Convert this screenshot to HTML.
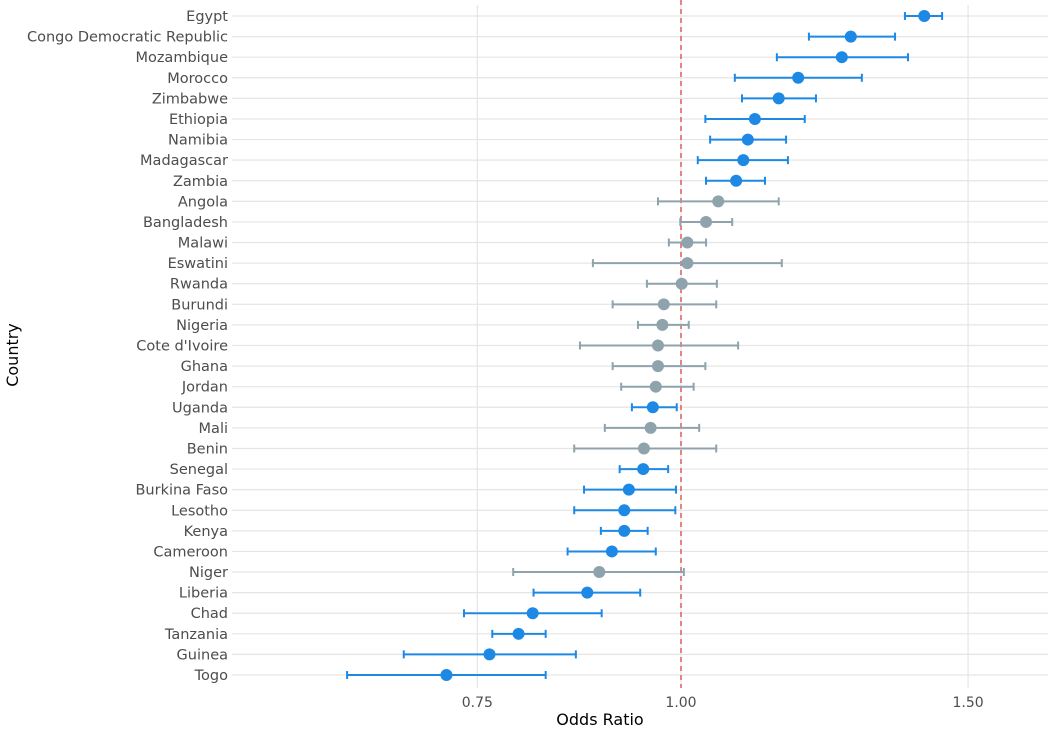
<!DOCTYPE html>
<html><head><meta charset="utf-8"><style>
body{margin:0;background:#fff;}
svg{display:block;font-family:"DejaVu Sans","Liberation Sans",sans-serif;}
</style></head><body>
<svg id="chart" width="1052" height="730"></svg>
<script>
const countries=["Egypt","Congo Democratic Republic","Mozambique","Morocco","Zimbabwe","Ethiopia","Namibia","Madagascar","Zambia","Angola","Bangladesh","Malawi","Eswatini","Rwanda","Burundi","Nigeria","Cote d'Ivoire","Ghana","Jordan","Uganda","Mali","Benin","Senegal","Burkina Faso","Lesotho","Kenya","Cameroon","Niger","Liberia","Chad","Tanzania","Guinea","Togo"];
const oddsRatio=[1.41,1.271,1.255,1.18,1.148,1.11,1.099,1.092,1.081,1.054,1.036,1.009,1.009,1.001,0.976,0.974,0.968,0.968,0.965,0.961,0.958,0.949,0.948,0.929,0.923,0.923,0.907,0.891,0.876,0.811,0.795,0.763,0.718];
const ciLower=[1.372,1.198,1.145,1.079,1.09,1.035,1.042,1.024,1.036,0.968,0.999,0.983,0.883,0.953,0.908,0.941,0.867,0.908,0.919,0.933,0.898,0.86,0.917,0.872,0.86,0.893,0.852,0.789,0.812,0.736,0.766,0.676,0.624];
const ciUpper=[1.446,1.353,1.378,1.291,1.21,1.191,1.16,1.163,1.126,1.148,1.075,1.036,1.153,1.052,1.051,1.011,1.084,1.035,1.018,0.994,1.026,1.051,0.982,0.993,0.992,0.954,0.965,1.004,0.944,0.894,0.826,0.862,0.826];
const tickValues=[0.75,1.00,1.50];
const tickLabels=["0.75","1.00","1.50"];

const NS="http://www.w3.org/2000/svg";
const svg=document.getElementById('chart');
const x=v=>681+708*Math.log(v);
const y=i=>16+i*(675-16)/(countries.length-1);
const L=232,R=1048;
function mk(t,a,p){const e=document.createElementNS(NS,t);for(const k in a)e.setAttribute(k,a[k]);(p||svg).appendChild(e);return e;}

const grid=mk('g',{});


countries.forEach((c,i)=>{mk('line',{x1:L,x2:R,y1:y(i),y2:y(i),stroke:'#e5e5e5','stroke-width':1.2},grid);});
tickValues.forEach((t,i)=>{
  mk('line',{x1:x(t),x2:x(t),y1:5,y2:688,stroke:'#e5e5e5','stroke-width':1.2},grid);
  const tx=mk('text',{x:x(t),y:707,'text-anchor':'middle','font-size':14,fill:'#4d4d4d'});
  
  
  tx.textContent=tickLabels[i];
});
const ref=mk('line',{x1:x(1),x2:x(1),y1:0,y2:688,stroke:'#d9605a','stroke-width':1.5,'stroke-dasharray':'5,4'});



countries.forEach((c,i)=>{
  const sig=ciLower[i]>1||ciUpper[i]<1;
  const col=sig?'#1e88e5':'#8fa3ad';
  const g=mk('g',{});
  
  
  const lb=mk('text',{x:228,y:y(i)+5,'text-anchor':'end','font-size':14.5,fill:'#4d4d4d'},g);
  
  
  lb.textContent=c;
  const yy=y(i),a=x(ciLower[i]),b=x(ciUpper[i]);
  const eb=mk('path',{d:`M${a},${yy}H${b}M${a},${yy-4}V${yy+4}M${b},${yy-4}V${yy+4}`,stroke:col,'stroke-width':2,fill:'none'},g);
  
  
  const pt=mk('circle',{cx:x(oddsRatio[i]),cy:yy,r:6,fill:col},g);
  
  
});
const xt=mk('text',{x:600,y:725,'text-anchor':'middle','font-size':16,fill:'#000'});


xt.textContent='Odds Ratio';
const yt=mk('text',{x:18,y:355,'text-anchor':'middle','font-size':16,fill:'#000',transform:'rotate(-90 18 355)'});


yt.textContent='Country';
</script>
</body></html>
